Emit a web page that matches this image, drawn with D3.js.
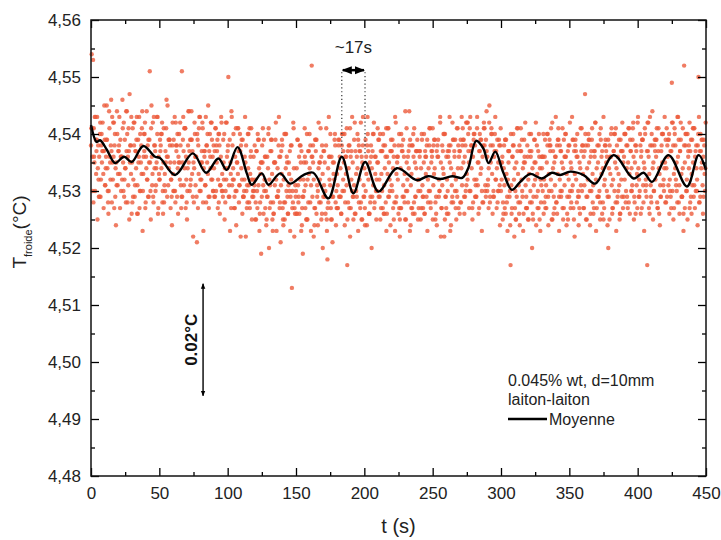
<!DOCTYPE html>
<html><head><meta charset="utf-8">
<script src="https://cdn.jsdelivr.net/npm/d3@7"></script>
<style>
body{margin:0;background:#fff;}
svg{font-family:"Liberation Sans",Arial,sans-serif;}
</style></head><body>
<svg id="chart" width="721" height="540"></svg>
<script>
// axes
const xTicks = [0, 50, 100, 150, 200, 250, 300, 350, 400, 450];
const xMinor = [25, 75, 125, 175, 225, 275, 325, 375, 425];
const yTicks = [4.48, 4.49, 4.50, 4.51, 4.52, 4.53, 4.54, 4.55, 4.56];
const yTickLabels = ["4,48", "4,49", "4,50", "4,51", "4,52", "4,53", "4,54", "4,55", "4,56"];
const yMinor = [4.485, 4.495, 4.505, 4.515, 4.525, 4.535, 4.545, 4.555];

// mesures brutes : un caractère = un niveau (4.513 + 0.001*k), une ligne = 30 s
const T0 = 4.513, dT = 0.001;
const levelCodes = "abcdefghijklmnopqrstuvwxyzABCDEFGHIJKLMNOP";
const rawRows = [
  "zPxOCwrAyEvtxBqzwDuyAsxGvprCwzyEtxoBvwFsyzuArxHwDtvpyBxCmwzE",
  "wCtzqyvEsAxoBwuFrxyDpvtzAwMrCxuqEvyswBnxtAzvDrwpuyCxGsvAwtqz",
  "uAwrDyqvxBtzoMwEsvCxprzwyAtFuqwvBsxiAzCrtwyDpvxsEzwuqyBvtAxr",
  "vyCrwAtpzsxDuqwBvrtxyLsAwoEzvtqxCrwuysBjvtAqrxwzopvsCuytqrxs",
  "tpyrBsvnugqwsAtormxvCtspyuknwsAtqvrEoxsuzmtBpvrwnsuyqtarDvos",
  "rvAsqntwyogtrxsmBtpuvzsNqwtloyAsrvptCxnuqswrzmfvEtsoxqwutBpr",
  "usAqxvnzrtwBpuseyvoCxtrwmsDyuqvAztopxwEsvlruzBtnwqxvysDpurtw",
  "wqtByurozsvxCnuqwtyAsrvxpkDuwtzomvByqsxuFrwtpvzAsuonxCwqvytr",
  "txrvBsownyuqAtvzrpwxCsuvmqyzAtrEwosvujBqxtrnywzvsDpuxAtrqvoy",
  "yAvsCwqxzDutBwrEyvoxAtzsqCwwyBuvrxpDzsAyxtvGqwCuzrxBtyvpwAsz",
  "rtxpvsAnuqtwyresoxBtvrmqyuszpCtrvnAwsqoxtuyrBpvmswtDquroxvts",
  "vrBtxoswzquAytrDvnwsxpzuCqtrywovAsBxuqmtzrwvEsoyuAtpxrqwvsCz",
  "uxsIzqvtBwrnyAusoxDtvqwzrpCuyvmstAwxqhvzuBsotyrwCvpxusnAtqyw",
  "xtBrvzwpuAyvsCxqwnyuDvtrzxoAswvBtqeyxuEspzvwrAtxCoyvusqzwBtv",
  "wAvqxsBtyoKrzuCvtwpxAsyDuqvnNwzrtBxvoyAuswqCxrvtzLpyBvwsxAuv"
];
// deuxième voie d'acquisition (décalée d'un demi-pas)
const rawRows2 = [
  "CCrpxEEuAmzqqDtByyoGsvAArnFxtHpwDDzqlsBuyEoxxtCrqAvFFpsyIzun",
  "pqDDsyAnnwErrzCkuBBoxFtqqAwmGsDpzzrvEEoutyBBpnCsrwHqxAAzotlD",
  "rrEpzzBnwwDsqqAyCCotmvFFrsAAyjpDxxqBouEErtwCkyyspzBGoqxDDtrz",
  "qqCzyoBBnsErrAtmpDDvzqqkuFstBoorlwCCpsyzAnqqtEjrsBBpoxCmtqrz",
  "mmyoAAkpwwzCnrxxlqqBhoyAAmpnwwDkqqzxpiyAolpmBBxqnwrkzzopCjnq",
  "nnApxzzklqqwCowmmyyBpkxxzjoAAnqlDwwpmzhyyqnCkopxxBmmiqwAzlo",
  "oozAqqnBByrlxxCmpzzjoyEqqAnnrxBkpyyDmmzqqoAxlEynnpzhqBBoxxmrC",
  "AAqmoyyBnnzpkxCCqrlyyAomzEpqxxnBjoozyAqpmmCrxyFklozzBpnqyyAmo",
  "yymoAqqBnxxzkprCCoyymzAApnlxxqrDjozyBBmqonyxzEklpqAAyromCCzxn",
  "ppEzAAnqrsDDyoCrzzmpBBqqtEsnoyAAkpzCCrqFrsoDpzBBnqqyEtoArrzlC",
  "wwmnzoAApkyyqlBnxzzjomwCCpnlyyAqkwxDoozmmBpxyhnqAAwlzoyBmkpx",
  "xxnpAqoBBlrzzCmmyqoxEpnAAkzyqrCmoxxBlnyzqDoprAAmjzyxBqlonCyrz",
  "ooyBmmqzAAlxrCpnyyDkozqqBmAxnpEozzyrlAqmxxCnoyBBpkzqrAmnyyDoq",
  "BBpzqoCCnyrrADmpzzsoEqqBnyAApkCrsyDDonzqBFmrzyAApoCnlqyBBsrE",
  "ppCzAAnrqyDDmoBzsrEEpnyAqqCkzoBBrmyzDpqnACCsoyzrlBEpqyAAnqzrD"
];
const rowSpan = 30; // s

// courbe moyenne
const meanT = [0, 4.2, 6.6, 11.7, 17.6, 24.2, 29.8, 38.3, 46.9, 50.5, 61.5, 74.5, 84.2, 93.2, 99.3,
  107.2, 114.0, 117.6, 125.0, 129.8, 138.4, 145.7, 155.4, 162.7, 173.7, 183.5, 192.0, 200.6, 210.3,
  223.8, 238.4, 246.7, 255.5, 264.3, 271.6, 276.0, 281.8, 287.0, 290.9, 295.8, 301.6, 308.0, 314.1,
  321.4, 329.9, 337.3, 343.3, 350.7, 360.4, 369.0, 382.4, 397.0, 404.3, 410.5, 422.6, 436.1, 444.6, 450];
const meanV = [4.5416, 4.5386, 4.5389, 4.5372, 4.5349, 4.5360, 4.5351, 4.5379, 4.5360, 4.5358, 4.5328,
  4.5366, 4.5332, 4.5357, 4.5337, 4.5377, 4.5331, 4.5311, 4.5331, 4.5311, 4.5331, 4.5313, 4.5328,
  4.5332, 4.5287, 4.5360, 4.5296, 4.5351, 4.5299, 4.5340, 4.5319, 4.5326, 4.5321, 4.5326, 4.5323,
  4.5340, 4.5388, 4.5375, 4.5349, 4.5369, 4.5333, 4.5302, 4.5316, 4.5330, 4.5322, 4.5332, 4.5328,
  4.5334, 4.5328, 4.5313, 4.5363, 4.5322, 4.5332, 4.5316, 4.5363, 4.5308, 4.5363, 4.5337];

// annotations
const periodT = [183.5, 200.5];
const periodTop = 4.5512, periodBottom = 4.5365;
const scaleBarT = 82, scaleBarV = [4.4939, 4.5139];

const margin = {top: 20, right: 15, bottom: 64, left: 91};
const width = 721 - margin.left - margin.right;
const height = 540 - margin.top - margin.bottom;

const svg = d3.select('#chart');
const defs = svg.append('defs');
defs.append('marker').attr('id', 'ah')
  .attr('viewBox', '0 0 10 10').attr('refX', 9).attr('refY', 5)
  .attr('markerWidth', 4).attr('markerHeight', 4).attr('orient', 'auto-start-reverse')
  .append('path').attr('d', 'M0,1 L10,5 L0,9 Z').attr('fill', '#000');

const g = svg.append('g').attr('transform', `translate(${margin.left},${margin.top})`);

const x = d3.scaleLinear().domain([0, 450]).range([0, width]);
const y = d3.scaleLinear().domain([4.48, 4.56]).range([height, 0]);

// points
const pts = [];
[[rawRows, 0], [rawRows2, 0.5]].forEach(([rows, shift]) => {
  rows.forEach((row, r) => {
    for (let j = 0; j < row.length; j++) {
      pts.push({t: Math.min(450, r * rowSpan + (j + shift) * rowSpan / row.length),
                v: T0 + dT * levelCodes.indexOf(row[j])});
    }
  });
});
g.append('g').selectAll('circle').data(pts).enter().append('circle')
  .attr('cx', d => x(d.t)).attr('cy', d => y(d.v)).attr('r', 2.2)
  .attr('fill', '#ec5b3c').attr('fill-opacity', 0.8);

// moyenne
const meanData = meanT.map((t, i) => ({t, v: meanV[i]}));
g.append('path').datum(meanData)
  .attr('fill', 'none').attr('stroke', '#000').attr('stroke-width', 2.4)
  .attr('d', d3.line().x(d => x(d.t)).y(d => y(d.v)).curve(d3.curveCatmullRom.alpha(0.5)));

// axes
function styleAxis(sel) {
  sel.select('.domain').remove();
  sel.selectAll('line').attr('stroke', '#000').attr('stroke-width', 1.3);
  sel.selectAll('text').attr('font-size', 17).attr('fill', '#222');
}
g.append('g').attr('transform', `translate(0,${height})`)
  .call(d3.axisBottom(x).tickValues(xTicks).tickSizeInner(-8).tickSizeOuter(0).tickPadding(11).tickFormat(d3.format('d')))
  .call(styleAxis);
g.append('g').attr('transform', `translate(0,${height})`)
  .call(d3.axisBottom(x).tickValues(xMinor).tickSizeInner(-4).tickSizeOuter(0).tickFormat(''))
  .call(styleAxis);
g.append('g')
  .call(d3.axisTop(x).tickValues(xTicks).tickSizeInner(-8).tickSizeOuter(0).tickFormat(''))
  .call(styleAxis);
g.append('g')
  .call(d3.axisTop(x).tickValues(xMinor).tickSizeInner(-4).tickSizeOuter(0).tickFormat(''))
  .call(styleAxis);
g.append('g')
  .call(d3.axisLeft(y).tickValues(yTicks).tickSizeInner(-8).tickSizeOuter(0).tickPadding(10)
    .tickFormat((d, i) => yTickLabels[i]))
  .call(styleAxis);
g.append('g')
  .call(d3.axisLeft(y).tickValues(yMinor).tickSizeInner(-4).tickSizeOuter(0).tickFormat(''))
  .call(styleAxis);
g.append('g').attr('transform', `translate(${width},0)`)
  .call(d3.axisRight(y).tickValues(yTicks).tickSizeInner(-8).tickSizeOuter(0).tickFormat(''))
  .call(styleAxis);
g.append('g').attr('transform', `translate(${width},0)`)
  .call(d3.axisRight(y).tickValues(yMinor).tickSizeInner(-4).tickSizeOuter(0).tickFormat(''))
  .call(styleAxis);

g.append('rect').attr('width', width).attr('height', height)
  .attr('fill', 'none').attr('stroke', '#111').attr('stroke-width', 1.5);

// titres
svg.append('text').attr('x', margin.left + width / 2).attr('y', 533)
  .attr('text-anchor', 'middle').attr('font-size', 20).attr('fill', '#222').text('t (s)');

const yl = svg.append('text').attr('transform', 'translate(26,232) rotate(-90)')
  .attr('text-anchor', 'middle').attr('font-size', 19).attr('fill', '#222');
yl.append('tspan').text('T');
yl.append('tspan').attr('font-size', 11).attr('dy', 6).text('froide');
yl.append('tspan').attr('dy', -6).text('(°C)');

// période ~17s
periodT.forEach(t => {
  g.append('line').attr('x1', x(t)).attr('x2', x(t))
    .attr('y1', y(periodTop) + 2).attr('y2', y(periodBottom))
    .attr('stroke', '#333').attr('stroke-width', 1.2).attr('stroke-dasharray', '1.2,2.6');
});
g.append('line').attr('x1', x(periodT[0]) + 1).attr('x2', x(periodT[1]) - 1)
  .attr('y1', y(periodTop)).attr('y2', y(periodTop))
  .attr('stroke', '#000').attr('stroke-width', 2.5)
  .attr('marker-start', 'url(#ah)').attr('marker-end', 'url(#ah)');
g.append('text').attr('x', x((periodT[0] + periodT[1]) / 2)).attr('y', y(periodTop) - 17)
  .attr('text-anchor', 'middle').attr('font-size', 17).attr('fill', '#222').text('~17s');

// barre 0.02°C
g.append('line').attr('x1', x(scaleBarT)).attr('x2', x(scaleBarT))
  .attr('y1', y(scaleBarV[0]) - 1).attr('y2', y(scaleBarV[1]) + 1)
  .attr('stroke', '#000').attr('stroke-width', 1.4)
  .attr('marker-start', 'url(#ah)').attr('marker-end', 'url(#ah)');
g.append('text')
  .attr('transform', `translate(${x(scaleBarT) - 6},${(y(scaleBarV[0]) + y(scaleBarV[1])) / 2}) rotate(-90)`)
  .attr('text-anchor', 'middle').attr('font-size', 17).attr('font-weight', 'bold').attr('fill', '#111')
  .text('0.02°C');

// légende
const lg = svg.append('g').attr('font-size', 16).attr('fill', '#222');
lg.append('text').attr('x', 508).attr('y', 386).text('0.045% wt, d=10mm');
lg.append('text').attr('x', 508).attr('y', 405).text('laiton-laiton');
lg.append('line').attr('x1', 508).attr('x2', 547).attr('y1', 419).attr('y2', 419)
  .attr('stroke', '#000').attr('stroke-width', 2.4);
lg.append('text').attr('x', 549).attr('y', 425).text('Moyenne');
</script>
</body></html>
